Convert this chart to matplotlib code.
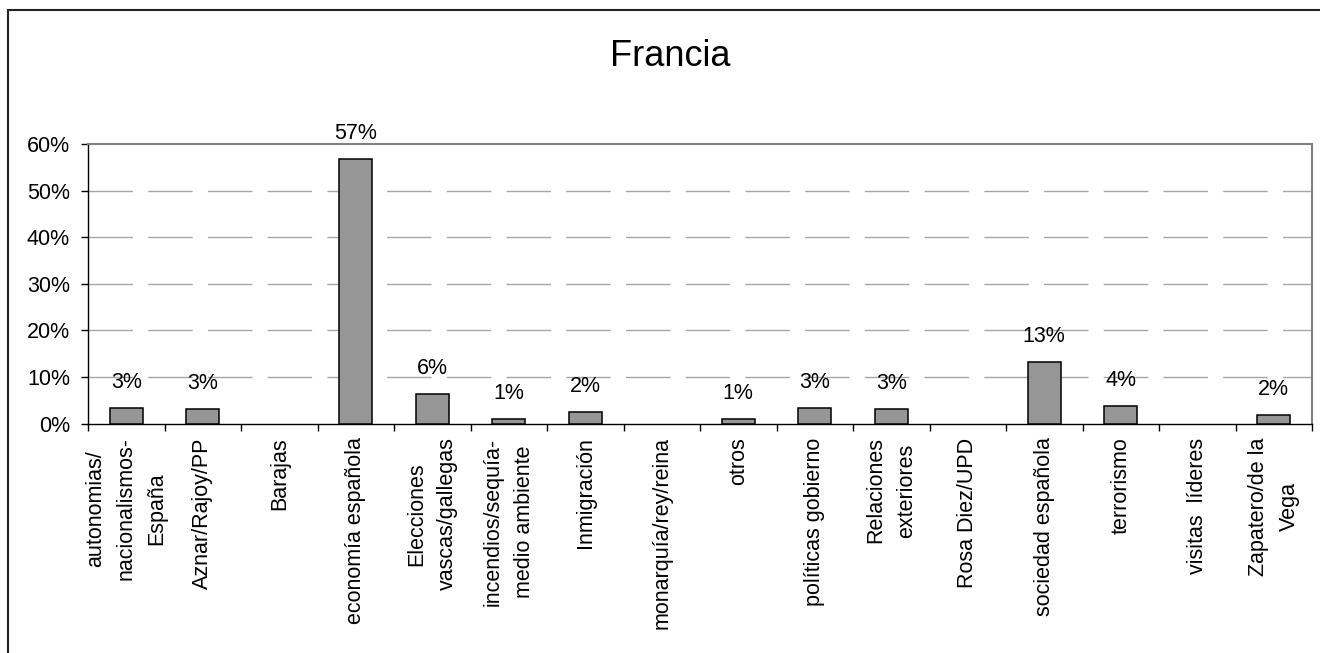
import numpy as np
import matplotlib
matplotlib.use("Agg")
import matplotlib.pyplot as plt
from matplotlib.patches import Rectangle
from matplotlib.ticker import PercentFormatter

plt.rcParams['font.family'] = ['Liberation Sans', 'DejaVu Sans']
plt.rcParams['lines.scale_dashes'] = False

# Data
categories = [
    "autonomias/\nnacionalismos-\nEspaña",
    "Aznar/Rajoy/PP",
    "Barajas",
    "economía española",
    "Elecciones\nvascas/gallegas",
    "incendios/sequía-\nmedio ambiente",
    "Inmigración",
    "monarquía/rey/reina",
    "otros",
    "políticas gobierno",
    "Relaciones\nexteriores",
    "Rosa Diez/UPD",
    "sociedad española",
    "terrorismo",
    "visitas  líderes",
    "Zapatero/de la\nVega",
]
values = [3.4, 3.1, 0, 56.8, 6.4, 0.9, 2.4, 0, 0.9, 3.4, 3.1, 0, 13.2, 3.8, 0, 1.8]
title = "Francia"

fig = plt.figure(figsize=(13.2, 6.53), dpi=100)
ax = fig.add_axes([88/1320, 1 - 423.5/653, (1312-88)/1320, (423.5-144)/653])

x = np.arange(len(categories))
vals = np.array(values)
nz = vals > 0
ax.bar(x[nz], vals[nz], width=0.435, color="#969696", edgecolor="black", linewidth=1.1, zorder=3)

# Value labels
for xi, v in zip(x[nz], vals[nz]):
    ax.annotate(f"{round(v):.0f}%", (xi, v), xytext=(0, 14.5), textcoords="offset points",
                ha="center", va="baseline", fontsize=15.5)

ax.set_xlim(-0.5, len(categories) - 0.5)
ax.set_ylim(0, 60)
ax.set_yticks(np.arange(0, 61, 10))
ax.yaxis.set_major_formatter(PercentFormatter(decimals=0))

# Gridlines (10-50)
for yv in range(10, 60, 10):
    ax.axhline(yv, color="#a6a6a6", linewidth=1.0, dashes=(32, 11), zorder=1)

# Category ticks at boundaries, labels centred
ax.set_xticks(np.arange(len(categories) + 1) - 0.5)
ax.set_xticklabels([])
ax.set_xticks(x, minor=True)
ax.set_xticklabels(categories, minor=True, rotation=90, ha="center", va="top",
                   multialignment="center", fontsize=15.5, linespacing=1.6)
ax.tick_params(axis="x", which="minor", length=0, pad=10)
ax.tick_params(axis="x", which="major", length=5, direction="out", width=1)
ax.tick_params(axis="y", length=5, direction="out", width=1, labelsize=15.5, pad=8)

for s in ["left", "bottom"]:
    ax.spines[s].set_color("black")
    ax.spines[s].set_linewidth(1.0)
for s in ["top", "right"]:
    ax.spines[s].set_color("#808080")
    ax.spines[s].set_linewidth(1.5)

fig.text(670/1320, 1 - 56/653, title, ha="center", va="center", fontsize=26)

# Chart frame (cropped at right and bottom)
fig.patches.append(Rectangle((8/1320, -0.1), 1.2, 1 - 10/653 + 0.1, transform=fig.transFigure,
                             fill=False, edgecolor="#222222", linewidth=1.5))

fig.savefig("out.png", dpi=100)
